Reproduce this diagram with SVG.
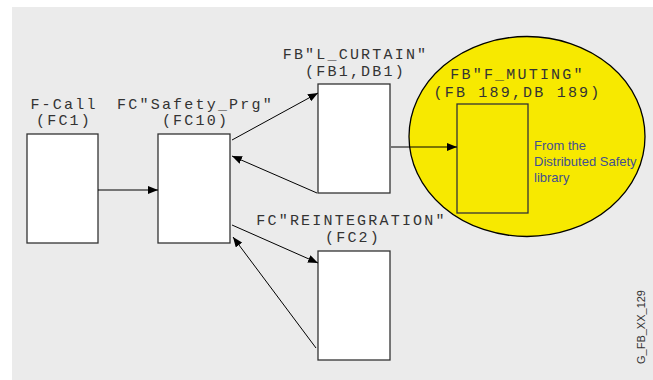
<svg xmlns="http://www.w3.org/2000/svg" width="653" height="380" viewBox="0 0 653 380">
<style>
.mono{font-family:"Liberation Mono","Courier New",monospace;font-size:15px;letter-spacing:2.2px;fill:#333;text-anchor:middle}
.box{fill:#fff;stroke:#333;stroke-width:1.3}
.conn line{stroke:#000;stroke-width:1;marker-end:url(#ah)}
.lib{font-family:"Liberation Sans",Arial,sans-serif;font-size:13px;fill:#42508f}
</style>
<defs>
<marker id="ah" viewBox="0 0 10 8" refX="10" refY="4" markerWidth="10" markerHeight="8" markerUnits="userSpaceOnUse" orient="auto">
<path d="M0,0 L10,4 L0,8 Z" fill="#000"/>
</marker>
</defs>
<rect x="0" y="0" width="653" height="380" fill="#fff"/>
<rect x="12" y="7" width="641" height="373" fill="#ebebeb"/>
<g id="muting-area">
<ellipse cx="527" cy="136.5" rx="118" ry="100" fill="#f7e900" stroke="#000" stroke-width="1.3"/>
</g>
<g id="fcall">
<text class="mono" x="64" y="108.5">F-Call</text>
<text class="mono" x="64" y="125">(FC1)</text>
<rect class="box" x="27" y="134" width="71" height="109"/>
</g>
<g id="safety-prg">
<text class="mono" x="195.5" y="108.5">FC"Safety_Prg"</text>
<text class="mono" x="195.5" y="125">(FC10)</text>
<rect class="box" x="158" y="134" width="72" height="109"/>
</g>
<g id="l-curtain">
<text class="mono" x="355.5" y="59">FB"L_CURTAIN"</text>
<text class="mono" x="355.5" y="75.5">(FB1,DB1)</text>
<rect class="box" x="318" y="84" width="72" height="109"/>
</g>
<g id="f-muting">
<text class="mono" x="517.5" y="79">FB"F_MUTING"</text>
<text class="mono" x="517.5" y="96.5">(FB 189,DB 189)</text>
<rect x="457" y="104" width="71" height="109" fill="#f7e900" stroke="#333" stroke-width="1.3"/>
<text class="lib" x="534" y="150">From the</text>
<text class="lib" x="534" y="166">Distributed Safety</text>
<text class="lib" x="534" y="182">library</text>
</g>
<g id="reintegration">
<text class="mono" x="351.5" y="225">FC"REINTEGRATION"</text>
<text class="mono" x="353" y="241.5">(FC2)</text>
<rect class="box" x="318" y="251" width="72" height="109"/>
</g>
<g class="conn" id="connectors">
<line x1="98" y1="190" x2="158" y2="190"/>
<line x1="232" y1="140" x2="318" y2="93"/>
<line x1="317" y1="193" x2="232" y2="156"/>
<line x1="232" y1="225" x2="318" y2="263"/>
<line x1="316" y1="348" x2="233" y2="237"/>
<line x1="391" y1="147" x2="457" y2="147"/>
</g>
<text x="645" y="364" transform="rotate(-90 645 364)" font-family="'Liberation Sans',Arial,sans-serif" font-size="11" fill="#333">G_FB_XX_129</text>
</svg>
